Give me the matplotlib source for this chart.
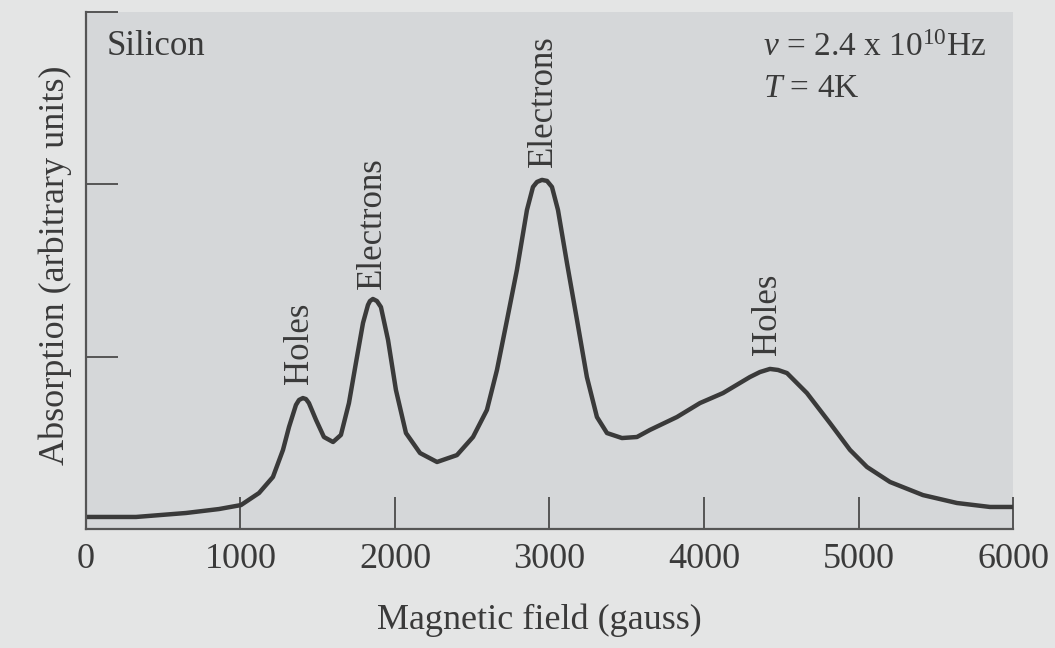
import matplotlib
matplotlib.use("Agg")
import matplotlib.pyplot as plt

plt.rcParams['font.family'] = ['Liberation Serif', 'DejaVu Serif']
plt.rcParams['mathtext.fontset'] = 'custom'
plt.rcParams['mathtext.rm'] = 'Liberation Serif'
plt.rcParams['mathtext.it'] = 'Liberation Serif:italic'

# magnetic field (gauss) and absorption (arbitrary units)
field = [0, 324, 647, 861, 1003, 1120, 1210, 1275, 1314, 1359,
         1379, 1404, 1424, 1443, 1489, 1540, 1599, 1650, 1702, 1747,
         1793, 1825, 1838, 1857, 1883, 1909, 1955, 2006, 2071, 2162,
         2272, 2401, 2505, 2595, 2660, 2725, 2789, 2854, 2893, 2919,
         2951, 2984, 3016, 3055, 3113, 3178, 3242, 3307, 3372, 3469,
         3566, 3650, 3825, 3974, 4123, 4297, 4362, 4427, 4479, 4537,
         4666, 4815, 4945, 5055, 5204, 5417, 5637, 5851, 6000]
absorption = [0.070, 0.070, 0.093, 0.116, 0.139, 0.209, 0.302, 0.459, 0.592, 0.720,
              0.749, 0.760, 0.754, 0.731, 0.633, 0.534, 0.505, 0.546, 0.731, 0.963,
              1.196, 1.300, 1.323, 1.335, 1.323, 1.288, 1.097, 0.807, 0.557, 0.441,
              0.389, 0.429, 0.534, 0.691, 0.923, 1.213, 1.503, 1.851, 1.985, 2.014,
              2.026, 2.020, 1.985, 1.851, 1.544, 1.213, 0.882, 0.650, 0.557, 0.528,
              0.534, 0.575, 0.650, 0.731, 0.789, 0.882, 0.911, 0.929, 0.923, 0.905,
              0.789, 0.615, 0.459, 0.360, 0.273, 0.197, 0.151, 0.128, 0.128]

xticks = [0, 1000, 2000, 3000, 4000, 5000, 6000]
yticks = [1, 2, 3]

# peak labels: text, x, y (bottom of the label)
peak_labels = ["Holes", "Electrons", "Electrons", "Holes"]
peak_x = [1385, 1851, 2958, 4414]
peak_y = [0.84, 1.39, 2.10, 1.01]

ink = '#3a3a3a'
fig = plt.figure(figsize=(10.55, 6.48), dpi=100, facecolor='#e4e5e5')
ax = fig.add_axes([0.0815, 0.1836, 0.8787, 0.7978])
ax.set_facecolor('#d5d7d9')

ax.plot(field, absorption, color=ink, lw=3.2, solid_joinstyle='round', solid_capstyle='butt')

ax.set_xlim(0, 6000)
ax.set_ylim(0, 3)
ax.set_xticks(xticks)
ax.set_yticks(yticks)
ax.set_yticklabels([])
ax.tick_params(direction='in', length=23, width=1.4, color='#555555')
ax.tick_params(axis='x', labelsize=26, labelcolor=ink, pad=10)
for s in ['top', 'right']:
    ax.spines[s].set_visible(False)
for s in ['left', 'bottom']:
    ax.spines[s].set_color('#555555')
    ax.spines[s].set_linewidth(1.6)

for lab, px, py in zip(peak_labels, peak_x, peak_y):
    ax.text(px, py, lab, rotation=90, ha='center', va='bottom', fontsize=25, color=ink)

ax.text(0.0227, 0.934, "Silicon", transform=ax.transAxes, ha='left', va='center',
        fontsize=25, color=ink)
ax.text(0.730, 0.932, r"$\nu$ = 2.4 x 10$^{10}$Hz", transform=ax.transAxes, ha='left',
        va='center', fontsize=24, color=ink)
ax.text(0.730, 0.851, r"$T$ = 4K", transform=ax.transAxes, ha='left', va='center',
        fontsize=24, color=ink)

fig.text(0.511, 0.043, "Magnetic field (gauss)", ha='center', va='center', fontsize=26, color=ink)
fig.text(0.052, 0.591, "Absorption (arbitrary units)", rotation=90, ha='center', va='center',
         fontsize=26, color=ink)

fig.savefig("out.png", dpi=100, facecolor=fig.get_facecolor())
